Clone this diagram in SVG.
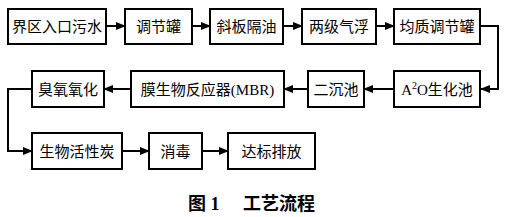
<svg xmlns="http://www.w3.org/2000/svg" width="508" height="217" viewBox="0 0 508 217">
<style>
.box{fill:#fff;stroke:#000;stroke-width:2}
.t{font-family:"Liberation Serif","Noto Sans CJK SC",serif;font-size:15px;text-anchor:middle;fill:#000}
.c{fill:none;stroke:#000;stroke-width:2}
.cap{font-family:"Liberation Serif","Noto Sans CJK SC",serif;font-size:18px;font-weight:bold;fill:#000}
</style>
<defs>
<marker id="ah" markerWidth="10" markerHeight="10" refX="9" refY="5" orient="auto" markerUnits="userSpaceOnUse">
<path d="M0,1 L10,5 L0,9 Z" fill="#000"/>
</marker>
</defs>
<rect width="508" height="217" fill="#fff"/>
<g id="connectors">
<line class="c" x1="106" y1="26" x2="125" y2="26" marker-end="url(#ah)"/>
<line class="c" x1="192" y1="26" x2="210" y2="26" marker-end="url(#ah)"/>
<line class="c" x1="283" y1="26" x2="302" y2="26" marker-end="url(#ah)"/>
<line class="c" x1="376" y1="26" x2="394" y2="26" marker-end="url(#ah)"/>
<polyline class="c" points="480,26 498,26 498,89 481,89" marker-end="url(#ah)"/>
<line class="c" x1="394" y1="89" x2="364" y2="89" marker-end="url(#ah)"/>
<line class="c" x1="308" y1="89" x2="284" y2="89" marker-end="url(#ah)"/>
<line class="c" x1="131" y1="89" x2="104" y2="89" marker-end="url(#ah)"/>
<polyline class="c" points="32,89 8,89 8,151 32,151" marker-end="url(#ah)"/>
<line class="c" x1="122" y1="151" x2="149" y2="151" marker-end="url(#ah)"/>
<line class="c" x1="202" y1="151" x2="228" y2="151" marker-end="url(#ah)"/>
</g>
<g id="n1"><rect class="box" x="8" y="9" width="98" height="35"/><text class="t" x="57" y="32">界区入口污水</text></g>
<g id="n2"><rect class="box" x="125" y="9" width="67" height="35"/><text class="t" x="158.5" y="32">调节罐</text></g>
<g id="n3"><rect class="box" x="210" y="9" width="73" height="35"/><text class="t" x="246.5" y="32">斜板隔油</text></g>
<g id="n4"><rect class="box" x="302" y="9" width="74" height="35"/><text class="t" x="339" y="32">两级气浮</text></g>
<g id="n5"><rect class="box" x="394" y="9" width="86" height="35"/><text class="t" x="437" y="32">均质调节罐</text></g>
<g id="n6"><rect class="box" x="394" y="71" width="86" height="36"/><text class="t" x="437" y="95">A<tspan font-size="10" dy="-6">2</tspan><tspan dy="6">O生化池</tspan></text></g>
<g id="n7"><rect class="box" x="308" y="71" width="56" height="36"/><text class="t" x="336" y="95">二沉池</text></g>
<g id="n8"><rect class="box" x="131" y="71" width="153" height="36"/><text class="t" x="207.5" y="95">膜生物反应器(MBR)</text></g>
<g id="n9"><rect class="box" x="32" y="71" width="72" height="36"/><text class="t" x="68" y="95">臭氧氧化</text></g>
<g id="n10"><rect class="box" x="32" y="133" width="90" height="36"/><text class="t" x="77" y="157">生物活性炭</text></g>
<g id="n11"><rect class="box" x="149" y="133" width="53" height="36"/><text class="t" x="175.5" y="157">消毒</text></g>
<g id="n12"><rect class="box" x="228" y="133" width="87" height="36"/><text class="t" x="271.5" y="157">达标排放</text></g>
<text class="cap" x="188" y="210">图 1<tspan x="243">工艺流程</tspan></text>
</svg>
